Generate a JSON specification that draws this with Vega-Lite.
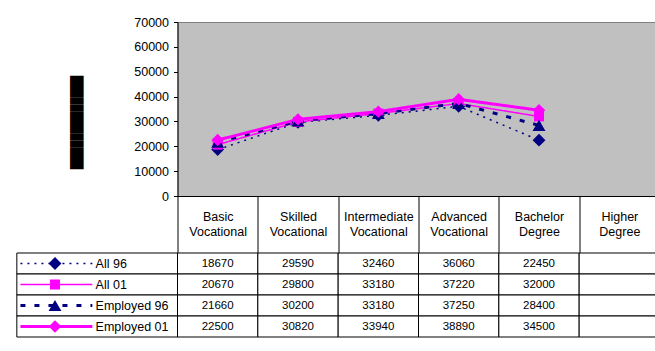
{
  "$schema": "https://vega.github.io/schema/vega-lite/v6.json",
  "padding": {"left": 15.5, "top": 15, "right": 0, "bottom": 0},
  "background": "white",
  "bounds": "flush",
  "spacing": 57,
  "config": {
    "font": "Liberation Sans",
    "text": {"font": "Liberation Sans"},
    "axis": {"labelFont": "Liberation Sans", "labelColor": "black"}
  },
  "datasets": {
    "income": [
      {"series": "All 96", "category": "Basic Vocational", "value": 18670},
      {"series": "All 96", "category": "Skilled Vocational", "value": 29590},
      {"series": "All 96", "category": "Intermediate Vocational", "value": 32460},
      {"series": "All 96", "category": "Advanced Vocational", "value": 36060},
      {"series": "All 96", "category": "Bachelor Degree", "value": 22450},
      {"series": "All 96", "category": "Higher Degree", "value": null},
      {"series": "All 01", "category": "Basic Vocational", "value": 20670},
      {"series": "All 01", "category": "Skilled Vocational", "value": 29800},
      {"series": "All 01", "category": "Intermediate Vocational", "value": 33180},
      {"series": "All 01", "category": "Advanced Vocational", "value": 37220},
      {"series": "All 01", "category": "Bachelor Degree", "value": 32000},
      {"series": "All 01", "category": "Higher Degree", "value": null},
      {"series": "Employed 96", "category": "Basic Vocational", "value": 21660},
      {"series": "Employed 96", "category": "Skilled Vocational", "value": 30200},
      {"series": "Employed 96", "category": "Intermediate Vocational", "value": 33180},
      {"series": "Employed 96", "category": "Advanced Vocational", "value": 37250},
      {"series": "Employed 96", "category": "Bachelor Degree", "value": 28400},
      {"series": "Employed 96", "category": "Higher Degree", "value": null},
      {"series": "Employed 01", "category": "Basic Vocational", "value": 22500},
      {"series": "Employed 01", "category": "Skilled Vocational", "value": 30820},
      {"series": "Employed 01", "category": "Intermediate Vocational", "value": 33940},
      {"series": "Employed 01", "category": "Advanced Vocational", "value": 38890},
      {"series": "Employed 01", "category": "Bachelor Degree", "value": 34500},
      {"series": "Employed 01", "category": "Higher Degree", "value": null}
    ]
  },
  "vconcat": [
    {
      "width": 482,
      "height": 174,
      "view": {"fill": "#C0C0C0", "stroke": "#808080", "strokeWidth": 1},
      "data": {"name": "income"},
      "encoding": {
        "x": {
          "field": "category",
          "type": "nominal",
          "bandPosition": 0.5,
          "scale": {"type": "band", "paddingInner": 0, "paddingOuter": 0,
            "domain": ["Basic Vocational", "Skilled Vocational", "Intermediate Vocational", "Advanced Vocational", "Bachelor Degree", "Higher Degree"]},
          "axis": {
            "title": null,
            "orient": "bottom",
            "tickBand": "extent",
            "tickSize": 57,
            "tickColor": "black",
            "domainColor": "black",
            "labelAngle": 0,
            "labelExpr": "split(datum.label, ' ')",
            "labelPadding": -43,
            "labelBaseline": "top",
            "labelFontSize": 12.5,
            "labelLineHeight": 15.5,
            "labelOverlap": false,
            "labelBound": false
          }
        },
        "y": {
          "field": "value",
          "type": "quantitative",
          "scale": {"domain": [0, 70000], "nice": false, "zero": true},
          "axis": {
            "values": [0, 10000, 20000, 30000, 40000, 50000, 60000, 70000],
            "grid": false,
            "format": "d",
            "domainColor": "black",
            "tickColor": "black",
            "tickSize": 4,
            "labelPadding": 5,
            "labelFontSize": 12.5,
            "title": "█████████████",
            "titleFont": "Liberation Mono",
            "titleFontSize": 12,
            "titleColor": "black",
            "titleX": -94.6,
            "titleY": 100,
            "titleAngle": -90,
            "titleBaseline": "bottom",
            "titleAlign": "center"
          }
        }
      },
      "layer": [
        {
          "mark": {"type": "line"},
          "encoding": {
            "color": {"field": "series", "type": "nominal", "legend": null,
              "scale": {"domain": ["All 96", "All 01", "Employed 96", "Employed 01"], "range": ["#000080", "#FF00FF", "#000080", "#FF00FF"]}},
            "strokeDash": {"field": "series", "type": "nominal", "legend": null,
              "scale": {"domain": ["All 96", "All 01", "Employed 96", "Employed 01"], "range": [[2, 5], [1, 0], [5, 9], [1, 0]]}},
            "strokeWidth": {"field": "series", "type": "ordinal", "legend": null,
              "scale": {"type": "ordinal", "domain": ["All 96", "All 01", "Employed 96", "Employed 01"], "range": [1.5, 1.5, 3, 3]}}
          }
        },
        {
          "mark": {"type": "point", "filled": true, "opacity": 1, "strokeWidth": 0},
          "encoding": {
            "color": {"field": "series", "type": "nominal", "legend": null,
              "scale": {"domain": ["All 96", "All 01", "Employed 96", "Employed 01"], "range": ["#000080", "#FF00FF", "#000080", "#FF00FF"]}},
            "shape": {"field": "series", "type": "nominal", "legend": null,
              "scale": {"domain": ["All 96", "All 01", "Employed 96", "Employed 01"], "range": ["diamond", "square", "triangle-up", "diamond"]}},
            "size": {"field": "series", "type": "ordinal", "legend": null,
              "scale": {"type": "ordinal", "domain": ["All 96", "All 01", "Employed 96", "Employed 01"], "range": [165, 100, 165, 155]}}
          }
        }
      ]
    },
    {
      "width": 482,
      "height": 84,
      "view": {"stroke": null, "fill": null},
      "data": {"name": "income"},
      "resolve": {"scale": {"x": "independent"}},
      "encoding": {
        "y": {"field": "series", "type": "nominal", "axis": null,
          "scale": {"type": "band", "paddingInner": 0, "paddingOuter": 0, "domain": ["All 96", "All 01", "Employed 96", "Employed 01"]}}
      },
      "layer": [
        {
          "mark": {"type": "rect", "fill": "white", "stroke": "black", "strokeWidth": 1},
          "encoding": {
            "x": {"field": "category", "type": "nominal", "axis": null,
              "scale": {"type": "band", "paddingInner": 0, "paddingOuter": 0,
                "domain": ["Basic Vocational", "Skilled Vocational", "Intermediate Vocational", "Advanced Vocational", "Bachelor Degree", "Higher Degree"]}}
          }
        },
        {
          "transform": [{"filter": "isValid(datum.value)"}],
          "mark": {"type": "text", "fontSize": 11.5, "color": "black", "baseline": "middle", "align": "center"},
          "encoding": {
            "x": {"field": "category", "type": "nominal", "axis": null,
              "scale": {"type": "band", "paddingInner": 0, "paddingOuter": 0,
                "domain": ["Basic Vocational", "Skilled Vocational", "Intermediate Vocational", "Advanced Vocational", "Bachelor Degree", "Higher Degree"]}},
            "text": {"field": "value", "type": "quantitative", "format": "d"}
          }
        },
        {
          "transform": [{"filter": "datum.category === 'Basic Vocational'"}],
          "mark": {"type": "rect", "fill": "white", "stroke": "black", "strokeWidth": 1},
          "encoding": {
            "x": {"datum": -2, "type": "quantitative", "axis": null, "scale": {"domain": [0, 6], "nice": false, "zero": false}},
            "x2": {"datum": 0}
          }
        },
        {
          "transform": [{"filter": "datum.category === 'Basic Vocational'"}],
          "mark": {"type": "rule"},
          "encoding": {
            "x": {"datum": -1.955, "type": "quantitative", "axis": null, "scale": {"domain": [0, 6], "nice": false, "zero": false}},
            "x2": {"datum": -1.06},
            "y": {"field": "series", "type": "nominal", "axis": null, "bandPosition": 0.5,
              "scale": {"type": "band", "paddingInner": 0, "paddingOuter": 0, "domain": ["All 96", "All 01", "Employed 96", "Employed 01"]}},
            "color": {"field": "series", "type": "nominal", "legend": null,
              "scale": {"domain": ["All 96", "All 01", "Employed 96", "Employed 01"], "range": ["#000080", "#FF00FF", "#000080", "#FF00FF"]}},
            "strokeDash": {"field": "series", "type": "nominal", "legend": null,
              "scale": {"domain": ["All 96", "All 01", "Employed 96", "Employed 01"], "range": [[2, 5], [1, 0], [5, 9], [1, 0]]}},
            "strokeWidth": {"field": "series", "type": "ordinal", "legend": null,
              "scale": {"type": "ordinal", "domain": ["All 96", "All 01", "Employed 96", "Employed 01"], "range": [1.5, 1.5, 3, 3]}}
          }
        },
        {
          "transform": [{"filter": "datum.category === 'Basic Vocational'"}],
          "mark": {"type": "point", "filled": true, "opacity": 1, "strokeWidth": 0},
          "encoding": {
            "x": {"datum": -1.525, "type": "quantitative", "axis": null, "scale": {"domain": [0, 6], "nice": false, "zero": false}},
            "color": {"field": "series", "type": "nominal", "legend": null,
              "scale": {"domain": ["All 96", "All 01", "Employed 96", "Employed 01"], "range": ["#000080", "#FF00FF", "#000080", "#FF00FF"]}},
            "shape": {"field": "series", "type": "nominal", "legend": null,
              "scale": {"domain": ["All 96", "All 01", "Employed 96", "Employed 01"], "range": ["diamond", "square", "triangle-up", "diamond"]}},
            "size": {"field": "series", "type": "ordinal", "legend": null,
              "scale": {"type": "ordinal", "domain": ["All 96", "All 01", "Employed 96", "Employed 01"], "range": [144, 86, 75, 100]}}
          }
        },
        {
          "transform": [{"filter": "datum.category === 'Basic Vocational'"}],
          "mark": {"type": "text", "fontSize": 12.5, "color": "black", "baseline": "middle", "align": "left"},
          "encoding": {
            "x": {"datum": -1.02, "type": "quantitative", "axis": null, "scale": {"domain": [0, 6], "nice": false, "zero": false}},
            "text": {"field": "series", "type": "nominal"}
          }
        }
      ]
    }
  ]
}
